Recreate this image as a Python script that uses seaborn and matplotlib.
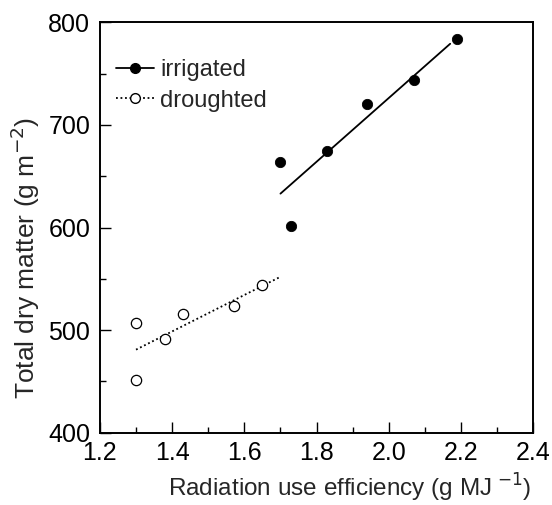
import matplotlib
matplotlib.use('Agg')
import matplotlib.pyplot as plt
import seaborn as sns
import pandas as pd
from matplotlib.lines import Line2D
from matplotlib.ticker import MultipleLocator

# Data
irr_rue = [1.70, 1.73, 1.83, 1.94, 2.07, 2.19]
irr_tdm = [664, 601, 675, 720, 744, 784]
dro_rue = [1.30, 1.30, 1.38, 1.43, 1.57, 1.65]
dro_tdm = [507, 451, 491, 516, 524, 544]

# regression lines (end points)
irr_fit_x = [1.70, 2.17]
irr_fit_y = [633, 779]
dro_fit_x = [1.30, 1.70]
dro_fit_y = [481, 552]

sns.set_style('ticks')
plt.rcParams['font.family'] = ['Liberation Sans', 'DejaVu Sans']
plt.rcParams['font.size'] = 18

fig = plt.figure(figsize=(5.52, 5.05), dpi=100)
ax = fig.add_axes([0.181, 0.143, 0.785, 0.813])

irr = pd.DataFrame({'rue': irr_rue, 'tdm': irr_tdm})
dro = pd.DataFrame({'rue': dro_rue, 'tdm': dro_tdm})

sns.lineplot(x=irr_fit_x, y=irr_fit_y, ax=ax, color='black', lw=1.3)
sns.lineplot(x=dro_fit_x, y=dro_fit_y, ax=ax, color='black', lw=1.3, linestyle=(0, (1, 1.5)))
sns.scatterplot(data=irr, x='rue', y='tdm', ax=ax, color='black', s=55, edgecolor='black', zorder=3)
sns.scatterplot(data=dro, x='rue', y='tdm', ax=ax, facecolor='white', s=55, edgecolor='black',
                linewidth=0.9, zorder=3)

ax.set_xlim(1.2, 2.4)
ax.set_ylim(400, 800)
ax.xaxis.set_major_locator(MultipleLocator(0.2))
ax.xaxis.set_minor_locator(MultipleLocator(0.1))
ax.yaxis.set_major_locator(MultipleLocator(100))
ax.yaxis.set_minor_locator(MultipleLocator(50))
ax.set_xticklabels([f'{v:.1f}' for v in ax.get_xticks()])
ax.tick_params(which='both', direction='in', top=False, right=False, colors='black', labelsize=18)
ax.tick_params(which='major', length=8, width=1)
ax.tick_params(which='minor', length=4, width=1)
ax.tick_params(axis='x', pad=6)
ax.tick_params(axis='y', pad=7)
for sp in ax.spines.values():
    sp.set_visible(True)
    sp.set_linewidth(1.4)
    sp.set_color('black')

ax.set_xlabel('Radiation use efficiency (g MJ$^{\\ {-}1}$)', fontsize=17.5)
ax.xaxis.set_label_coords(0.577, -0.095)
ax.set_ylabel('Total dry matter (g m$^{{-}2}$)', fontsize=19)
ax.yaxis.set_label_coords(-0.134, 0.425)

handles = [
    Line2D([], [], color='black', lw=1.3, marker='o', markersize=7, markerfacecolor='black'),
    Line2D([], [], color='black', lw=1.3, linestyle=(0, (1, 1.5)), marker='o', markersize=7,
           markerfacecolor='white'),
]
ax.legend(handles, ['irrigated', 'droughted'], loc='upper left', frameon=False, fontsize=17,
          handlelength=1.6, handletextpad=0.25, labelspacing=0.35, borderaxespad=0.3,
          bbox_to_anchor=(0.0, 0.95))

fig.savefig('out.png', dpi=100)
